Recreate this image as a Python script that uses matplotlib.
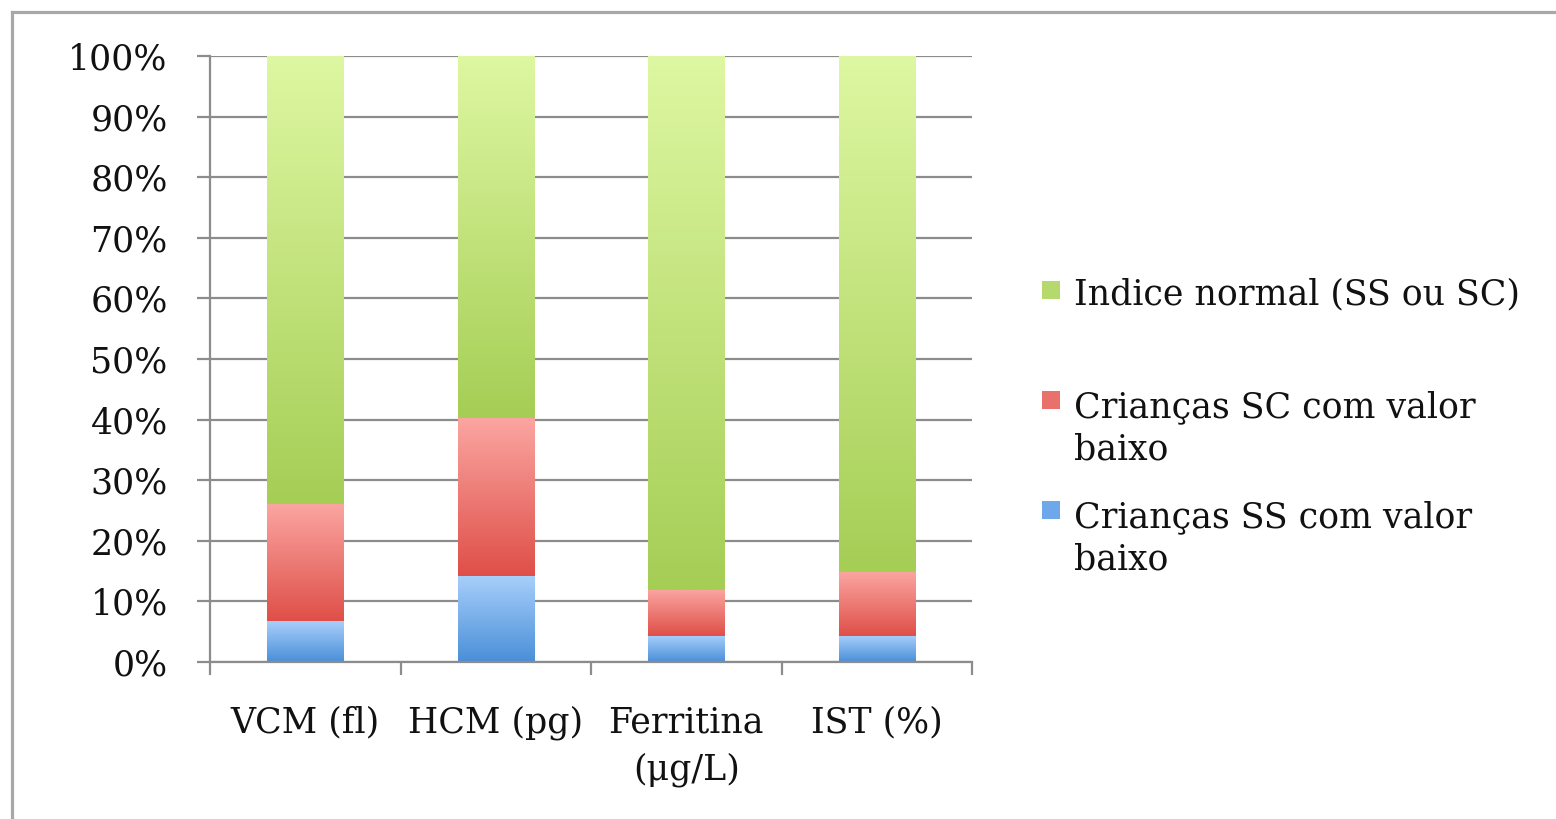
import numpy as np
import matplotlib
matplotlib.use("Agg")
import matplotlib.pyplot as plt
from matplotlib.lines import Line2D
from matplotlib.patches import Rectangle
from matplotlib.colors import to_rgb

# ---- data ----
categories = ["VCM (fl)", "HCM (pg)", "Ferritina\n(μg/L)", "IST (%)"]
ss_low = [6.7, 14.2, 4.3, 4.3]        # Crianças SS com valor baixo
sc_low = [19.4, 26.1, 7.6, 10.6]      # Crianças SC com valor baixo
normal = [73.9, 59.7, 88.1, 85.1]     # Indice normal (SS ou SC)
yticks = list(range(0, 101, 10))
ytick_labels = [f"{v}%" for v in yticks]

series_labels = ["Crianças SS com valor\nbaixo",
                 "Crianças SC com valor\nbaixo",
                 "Indice normal (SS ou SC)"]
series_values = [ss_low, sc_low, normal]
# (bottom colour, top colour, swatch colour)
grad_colors = [("#4a8fd8", "#a8cffb", "#6ea8ea"),
               ("#df4f48", "#fba6a2", "#e9716b"),
               ("#a5ce55", "#def7a2", "#b5d96c")]

W, H = 1556, 819
fig = plt.figure(figsize=(W / 100, H / 100), dpi=100)
fig.patch.set_facecolor("white")
ax = fig.add_axes([210 / W, 157 / H, 762 / W, 606 / H])

serif = ["DejaVu Serif"]
fs = 25
grid_c = "#8c8c8c"
txt_c = "#111111"

x = np.arange(len(categories))
bottom = np.zeros(len(categories))
for vals, (c0, c1, _) in zip(series_values, grad_colors):
    bars = ax.bar(x, vals, width=0.4, bottom=bottom, color="none",
                  edgecolor="none", zorder=2)
    g = np.linspace(0, 1, 256)[:, None, None]
    a, b = np.array(to_rgb(c0)), np.array(to_rgb(c1))
    img = a + (b - a) * g
    for p in bars.patches:
        bx, by = p.get_x(), p.get_y()
        bw, bh = p.get_width(), p.get_height()
        im = ax.imshow(img, extent=[bx, bx + bw, by, by + bh], origin="lower",
                       aspect="auto", zorder=2, interpolation="bilinear")
        im.set_clip_path(p)
    bottom += np.array(vals)

ax.set_xlim(-0.5, len(categories) - 0.5)
ax.set_ylim(0, 100)
ax.set_aspect("auto")

ax.set_yticks(yticks)
ax.set_yticklabels(ytick_labels, fontfamily=serif, fontsize=fs, color=txt_c)
ax.yaxis.grid(True, color=grid_c, lw=1.6)
ax.set_axisbelow(True)
ax.tick_params(axis="y", direction="out", length=9.5, width=1.6,
               color=grid_c, pad=21)

ax.set_xticks(x)
ax.set_xticklabels(categories, fontfamily=serif, fontsize=fs, color=txt_c,
                   linespacing=1.5)
ax.set_xticks(np.arange(-0.5, len(categories), 1.0), minor=True)
ax.tick_params(axis="x", which="major", length=0, pad=31)
ax.tick_params(axis="x", which="minor", direction="out", length=9.5,
               width=1.6, color=grid_c)

for s in ["top", "right"]:
    ax.spines[s].set_visible(False)
for s in ["left", "bottom"]:
    ax.spines[s].set_color(grid_c)
    ax.spines[s].set_linewidth(1.6)

# ---- legend (top to bottom: normal, SC, SS) ----
line_gap = 45
leg_rows = [(2, 304), (1, 414), (0, 524)]   # series index, first baseline px
for idx, base_px in leg_rows:
    sw = grad_colors[idx][2]
    fig.add_artist(Rectangle((1042 / W, 1 - (base_px - 5) / H), 18 / W, 18 / H,
                             transform=fig.transFigure, facecolor=sw,
                             edgecolor="none"))
    nlines = series_labels[idx].count("\n")
    fig.text(1074 / W, 1 - (base_px + nlines * line_gap) / H,
             series_labels[idx], fontfamily=serif, fontsize=fs, color=txt_c,
             va="baseline", ha="left", linespacing=1.3)

# ---- outer frame ----
fc = "#a8a8a8"
fig.add_artist(Line2D([12 / W, 12 / W], [0, 1 - 12 / H], color=fc, lw=2.3,
                      transform=fig.transFigure))
fig.add_artist(Line2D([12 / W, 1], [1 - 12 / H, 1 - 12 / H], color=fc, lw=2.3,
                      transform=fig.transFigure))

fig.savefig("out.png", dpi=100)
